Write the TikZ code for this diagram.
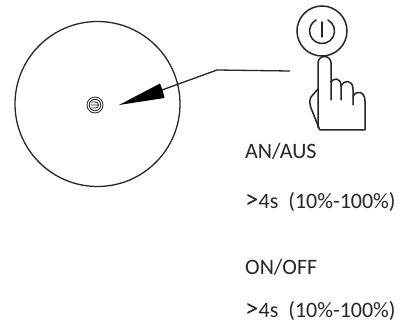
\documentclass[tikz,border=0pt]{standalone}
\usepackage{fontspec}
\setmainfont{Carlito}
\tikzset{
  x=1pt,y=-1pt,
  ink/.style={draw=black!85,line width=1.5pt,line cap=round,line join=round},
  textline/.style={anchor=base west,inner sep=0pt,font=\fontsize{22}{24}\selectfont,text=black!85},
}
\newcommand{\gtmark}{{\fontsize{27}{24}\selectfont >}}
\begin{document}
\begin{tikzpicture}
\useasboundingbox (0,0) rectangle (400,326);
\fill[white] (0,0) rectangle (400,326);
% large disc
\node[circle,draw=black!85,line width=1.3pt,minimum size=165pt,inner sep=0pt] (disc) at (97.5,104) {};
% small knob
\node[circle,draw=black!85,line width=.8pt,minimum size=16pt,inner sep=0pt] (knob) at (95,105) {};
\node[circle,draw=black!85,line width=.8pt,minimum size=11.5pt,inner sep=0pt] (knobb) at (95,105) {};
\draw[black!85,line width=.8pt] (91,102) -- (95.5,102) arc (-90:90:3) -- (91,108) (90.5,105) -- (98.5,105);
% leader
\coordinate (bend) at (217,70);
\coordinate (start) at (290,71);
\coordinate (tip) at (119,105);
\draw[black!85,line width=1.3pt] (start) -- (bend) -- (162,90);
\fill[black] (tip) -- (160,83.5) -- (162.5,90) -- (164.5,98) -- cycle;
% power button
\node[circle,draw=black!85,line width=1.5pt,minimum size=50pt,inner sep=0pt] (btn) at (322,31) {};
\draw[ink] (327.9,20) arc (-62:242:12.5);
\draw[ink] (322,22) -- (322,37);
% hand
\draw[ink] (318,127) -- (318,63) arc (180:360:6.5) -- (331,100);
\draw[ink] (331,82) .. controls (333,78) and (341,77) .. (341,86) -- (341,100);
\draw[ink] (341,86) .. controls (343,80) and (353,79) .. (353,89) -- (353,105);
\draw[ink] (353,96) .. controls (355,91) and (365,90) .. (365,101) -- (365,130) -- (320,130) -- (318,127);
\draw[ink] (318,89) -- (311,97) .. controls (309,101) and (310,105) .. (311,108) -- (319,128);
% texts
\node[textline] (t1) at (245,159) {AN/AUS};
\node[textline] (t2) at (245,209) {\gtmark 4s\ \ (10\%-100\%)};
\node[textline] (t3) at (245,275) {ON/OFF};
\node[textline] (t4) at (245,318) {\gtmark 4s\ \ (10\%-100\%)};
\end{tikzpicture}
\end{document}
